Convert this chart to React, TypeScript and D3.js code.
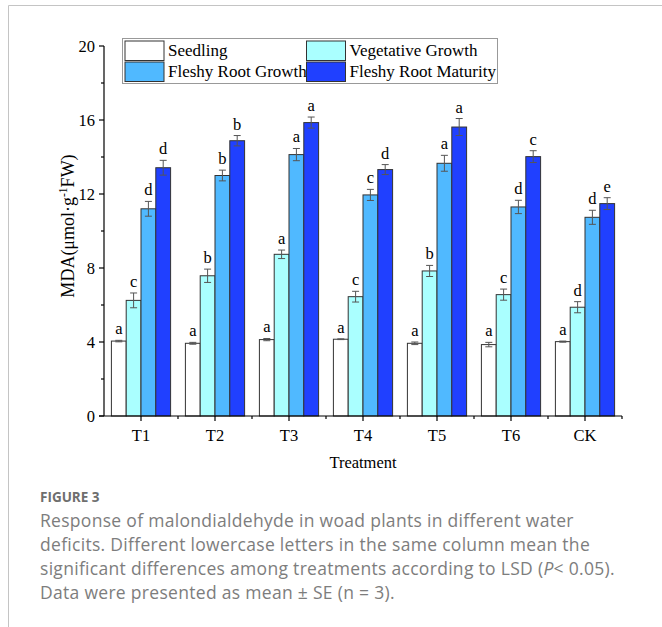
import React from "react";
import * as d3 from "d3";

// Treatments on the x axis
const treatments = ["T1", "T2", "T3", "T4", "T5", "T6", "CK"];

// Growth stages (series)
const stages = ["Seedling", "Vegetative Growth", "Fleshy Root Growth", "Fleshy Root Maturity"];
const stageColors = ["#ffffff", "#aaffff", "#50b9ff", "#2040ff"];

// MDA means per stage, one value per treatment
const seedling = [4.05, 3.93, 4.13, 4.15, 3.93, 3.86, 4.02];
const vegetative = [6.25, 7.58, 8.74, 6.45, 7.84, 6.56, 5.88];
const rootGrowth = [11.2, 13.0, 14.13, 11.95, 13.66, 11.3, 10.74];
const rootMaturity = [13.42, 14.88, 15.86, 13.32, 15.62, 14.02, 11.48];

// Standard errors
const seedlingSE = [0.04, 0.05, 0.06, 0.02, 0.07, 0.12, 0.03];
const vegetativeSE = [0.4, 0.36, 0.23, 0.29, 0.3, 0.3, 0.3];
const rootGrowthSE = [0.4, 0.29, 0.33, 0.3, 0.43, 0.36, 0.38];
const rootMaturitySE = [0.4, 0.28, 0.3, 0.27, 0.46, 0.32, 0.32];

// LSD significance letters
const seedlingLetters = ["a", "a", "a", "a", "a", "a", "a"];
const vegetativeLetters = ["c", "b", "a", "c", "b", "c", "d"];
const rootGrowthLetters = ["d", "b", "a", "c", "a", "d", "d"];
const rootMaturityLetters = ["d", "b", "a", "d", "a", "c", "e"];

const yTicks = [0, 4, 8, 12, 16, 20];
const yMinorTicks = [2, 6, 10, 14, 18];

const captionTitle = "FIGURE 3";
const captionLines = [
  "Response of malondialdehyde in woad plants in different water",
  "deficits. Different lowercase letters in the same column mean the",
  "significant differences among treatments according to LSD (",
  "Data were presented as mean ± SE (n = 3).",
];

const means = [seedling, vegetative, rootGrowth, rootMaturity];
const errors = [seedlingSE, vegetativeSE, rootGrowthSE, rootMaturitySE];
const letters = [seedlingLetters, vegetativeLetters, rootGrowthLetters, rootMaturityLetters];

const W = 662;
const H = 627;
const plot = { left: 104, right: 622, top: 46, bottom: 416 };
const serif = "'Liberation Serif', 'Times New Roman', serif";
const sans = "'Open Sans', Lato, sans-serif";

export default function App() {
  const x0 = d3.scaleBand<string>().domain(treatments).range([plot.left, plot.right]).padding(0);
  const groupW = x0.bandwidth() * 0.8;
  const x1 = d3.scaleBand<string>().domain(stages).range([0, groupW]).padding(0);
  const y = d3.scaleLinear().domain([0, 20]).range([plot.bottom, plot.top]);

  const bars: React.ReactNode[] = [];
  treatments.forEach((t, ti) => {
    const gx = (x0(t) as number) + (x0.bandwidth() - groupW) / 2;
    stages.forEach((s, si) => {
      const v = means[si][ti];
      const e = errors[si][ti];
      const bx = gx + (x1(s) as number);
      const bw = x1.bandwidth();
      const cx = bx + bw / 2;
      const top = y(v + e);
      const bot = y(v - e);
      bars.push(
        <g key={`${t}-${s}`}>
          <rect x={bx} y={y(v)} width={bw} height={y(0) - y(v)} fill={stageColors[si]} stroke="#333" strokeWidth={1} />
          <line x1={cx} x2={cx} y1={top} y2={bot} stroke="#555" strokeWidth={1} />
          <line x1={cx - 3.5} x2={cx + 3.5} y1={top} y2={top} stroke="#555" strokeWidth={1} />
          <line x1={cx - 3.5} x2={cx + 3.5} y1={bot} y2={bot} stroke="#555" strokeWidth={1} />
          <text x={cx} y={top - 6} textAnchor="middle" fontFamily={serif} fontSize={16.5} fill="#000">
            {letters[si][ti]}
          </text>
        </g>
      );
    });
  });

  const boundaries = treatments.slice(1).map((t) => x0(t) as number).concat([plot.right]);

  const legendItems = stages.map((s, i) => ({
    s,
    color: stageColors[i],
    x: i % 2 === 0 ? 125 : 306.5,
    y: i < 2 ? 41 : 62,
  }));

  return (
    <svg width={W} height={H} style={{ position: "absolute", left: 0, top: 0, background: "#fff" }}>
      {/* card frame */}
      <line x1={8.5} x2={W} y1={5.5} y2={5.5} stroke="#c4c4c4" strokeWidth={1} />
      <line x1={8.5} x2={8.5} y1={5.5} y2={H} stroke="#c4c4c4" strokeWidth={1} />

      {bars}

      {/* y axis */}
      <line x1={plot.left} x2={plot.left} y1={plot.top} y2={plot.bottom} stroke="#000" strokeWidth={1.2} />
      {yTicks.map((v) => (
        <g key={`yt${v}`}>
          <line x1={plot.left - 5} x2={plot.left} y1={y(v)} y2={y(v)} stroke="#000" strokeWidth={1.2} />
          <text x={plot.left - 9} y={y(v) + 5.5} textAnchor="end" fontFamily={serif} fontSize={16.5} fill="#000">
            {v}
          </text>
        </g>
      ))}
      {yMinorTicks.map((v) => (
        <line key={`ym${v}`} x1={plot.left - 3} x2={plot.left} y1={y(v)} y2={y(v)} stroke="#000" strokeWidth={1.2} />
      ))}

      {/* x axis */}
      <line x1={plot.left - 5} x2={plot.right} y1={plot.bottom} y2={plot.bottom} stroke="#000" strokeWidth={1.2} />
      {treatments.map((t) => {
        const cx = (x0(t) as number) + x0.bandwidth() / 2;
        return (
          <g key={`xt${t}`}>
            <line x1={cx} x2={cx} y1={plot.bottom} y2={plot.bottom + 5} stroke="#000" strokeWidth={1.2} />
            <text x={cx} y={plot.bottom + 25} textAnchor="middle" fontFamily={serif} fontSize={16.5} fill="#000">
              {t}
            </text>
          </g>
        );
      })}
      {boundaries.map((bx, i) => (
        <line key={`xm${i}`} x1={bx} x2={bx} y1={plot.bottom} y2={plot.bottom + 3} stroke="#000" strokeWidth={1.2} />
      ))}

      {/* axis titles */}
      <text x={(plot.left + plot.right) / 2} y={468} textAnchor="middle" fontFamily={serif} fontSize={16.5} fill="#000">
        Treatment
      </text>
      <text
        transform={`translate(74, 226) rotate(-90)`}
        textAnchor="middle"
        fontFamily={serif}
        fontSize={18}
        fill="#000"
      >
        MDA(μmol·g
        <tspan dy={-7} fontSize={11.5}>-1</tspan>
        <tspan dy={7}>FW)</tspan>
      </text>

      {/* legend */}
      <rect x={122.5} y={38.5} width={375} height={45} fill="#fff" stroke="#999" strokeWidth={1} />
      {legendItems.map((it) => (
        <g key={`lg${it.s}`}>
          <rect x={it.x} y={it.y} width={39} height={19.5} fill={it.color} stroke="#333" strokeWidth={1} />
          <text x={it.x + 43} y={it.y + 15} fontFamily={serif} fontSize={17} fill="#000">
            {it.s}
          </text>
        </g>
      ))}

      {/* caption */}
      <text x={40} y={502} fontFamily={sans} fontWeight="bold" fontSize={13.5} fill="#6e6e6e">
        {captionTitle}
      </text>
      {captionLines.map((line, i) => (
        <text key={`cap${i}`} x={40} y={527 + i * 24} fontFamily={sans} fontSize={17.5} letterSpacing={0.3} fill="#7d7d7d">
          {line}
          {i === 2 ? (
            <>
              <tspan fontStyle="italic">P</tspan>
              {"< 0.05)."}
            </>
          ) : null}
        </text>
      ))}
    </svg>
  );
}
